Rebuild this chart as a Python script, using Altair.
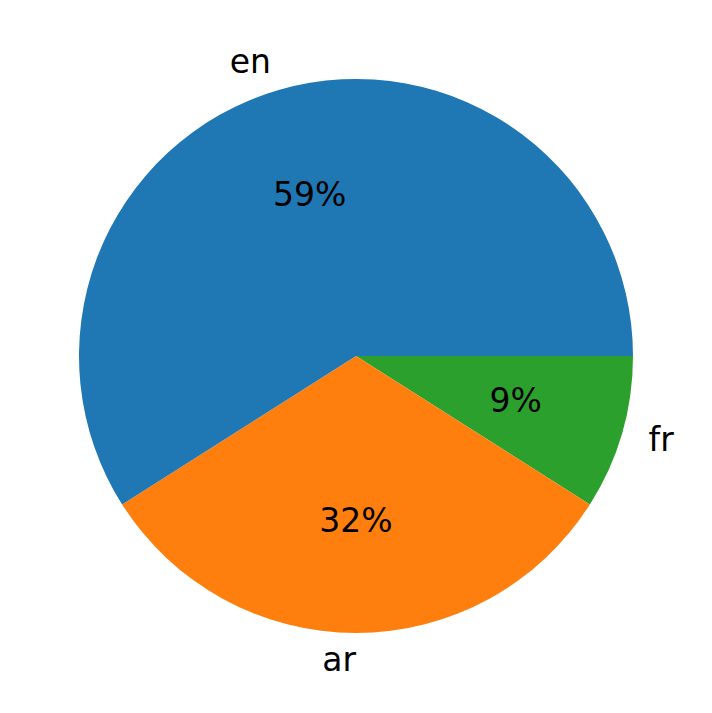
import math
import altair as alt
import pandas as pd

labels = ["fr", "ar", "en"]
values = [9, 32, 59]
pct_text = ["9%", "32%", "59%"]
colors = ["#2ca02c", "#ff7f0e", "#1f77b4"]
order = [0, 1, 2]
label_align = ["left", "right", "right"]

df = pd.DataFrame({"label": labels, "value": values, "pct": pct_text,
                   "order": order, "align": label_align})

theta_scale = alt.Scale(range=[math.pi / 2, 2.5 * math.pi])
R = 277

base = alt.Chart(df).encode(
    theta=alt.Theta("value:Q", stack=True, scale=theta_scale),
    order=alt.Order("order:Q"),
)

arcs = base.mark_arc(outerRadius=R, stroke=None, strokeWidth=0).encode(
    color=alt.Color("label:N", scale=alt.Scale(domain=labels, range=colors), legend=None)
)

font = "DejaVu Sans"
pcts = base.mark_text(radius=R * 0.6, fontSize=33, font=font, color="black",
                      align="center", baseline="middle").encode(text="pct:N")

lab_left = base.mark_text(radius=R * 1.1, fontSize=33, font=font, color="black",
                          align="left", baseline="middle").encode(
    text=alt.condition("datum.align == 'left'", alt.Text("label:N"), alt.value(""))
)
lab_right = base.mark_text(radius=R * 1.1, fontSize=33, font=font, color="black",
                           align="right", baseline="middle").encode(
    text=alt.condition("datum.align == 'right'", alt.Text("label:N"), alt.value(""))
)

chart = alt.layer(arcs, pcts, lab_left, lab_right).properties(
    width=696, height=696, padding=0, autosize=alt.AutoSizeParams(type="none")
).configure_view(stroke=None)

chart.save("out.html", embed_options={"renderer": "svg", "actions": False})
